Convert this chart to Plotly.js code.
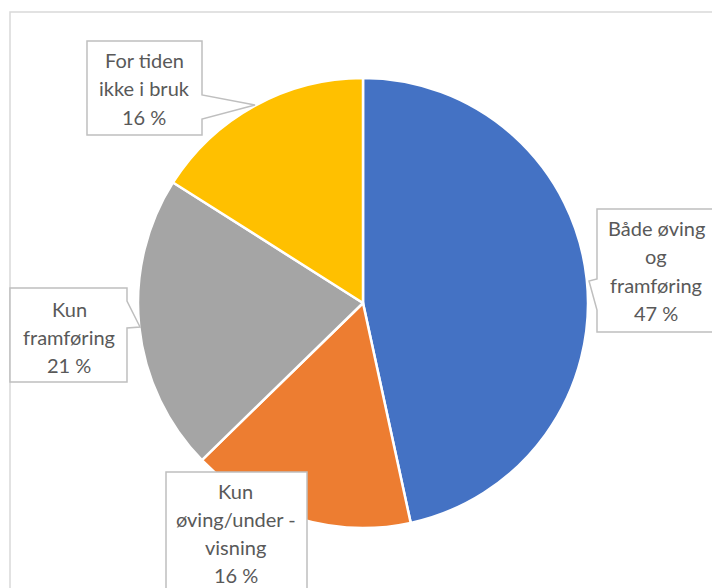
<!DOCTYPE html>
<html>
<head>
<meta charset="utf-8">
<script src="https://cdn.plot.ly/plotly-3.0.1.min.js"></script>
<style>html,body{margin:0;padding:0;background:#fff;}#chart{width:712px;height:588px;}</style>
</head>
<body>
<div id="chart"></div>
<script>
// Data (shares; labels show rounded percent)
const categories = ["Både øving og framføring", "Kun øving/undervisning", "Kun framføring", "For tiden ikke i bruk"];
const values = [46.6, 16.1, 21.3, 16.0];
const labelLines = ["Både øving<br>og<br>framføring", "Kun<br>øving/under -<br>visning", "Kun<br>framføring", "For tiden<br>ikke i bruk"];
const colors = ["#4472C4", "#ED7D31", "#A5A5A5", "#FFC000"];

const W = 712, H = 588;
const px = (x, y) => (x / W).toFixed(5) + "," + (1 - y / H).toFixed(5);
const path = pts => "M" + pts.map(p => px(p[0], p[1])).join(" L") + " Z";

// callout outlines (pixel geometry of label boxes)
const callouts = [
  [[597,209],[720,209],[720,332],[597,332],[597,310],[589,281],[597,279]],
  [[166,472],[307,472],[307,600],[166,600]],
  [[10,288],[127,288],[127,301],[140,327],[127,328],[127,382],[10,382]],
  [[87,41],[202,41],[202,95],[255,105],[202,119],[202,135],[87,135]]
];
const textPos = [[656,270.5],[236,533],[69,337],[144,88.5]];
const lineGap = [28.3, 27.8, 28.3, 28.3];

const shapes = [
  {type:"path", xref:"paper", yref:"paper", layer:"below",
   path: "M" + px(10,700) + " L" + px(10,12) + " L" + px(800,12),
   line:{color:"#D9D9D9", width:1.5}}
];
callouts.forEach(c => shapes.push({type:"path", xref:"paper", yref:"paper", layer:"above",
  path: path(c), fillcolor:"#FFFFFF", line:{color:"#BFBFBF", width:1.5}}));

const annotations = [];
categories.forEach((c, i) => {
  const lines = (labelLines[i] + "<br>" + Math.round(values[i]) + " %").split("<br>");
  const n = lines.length;
  lines.forEach((t, k) => {
    const yy = textPos[i][1] + (k - (n - 1) / 2) * lineGap[i];
    annotations.push({
      xref:"paper", yref:"paper", x: textPos[i][0]/W, y: 1 - yy/H,
      xanchor:"center", yanchor:"middle", showarrow:false, align:"center",
      text: t,
      font:{family:"Lato, 'Open Sans', sans-serif", size:20, color:"#595959"}
    });
  });
});

const cx = 363, cy = 303, r = 225;
const trace = {
  type:"pie", labels: categories, values: values, sort:false, direction:"clockwise", rotation:0,
  marker:{colors: colors, line:{color:"#FFFFFF", width:2.5}},
  textinfo:"none", hoverinfo:"label+percent", automargin:false,
  domain:{x:[(cx-r)/W, (cx+r)/W], y:[1-(cy+r)/H, 1-(cy-r)/H]}
};

Plotly.newPlot("chart", [trace], {
  width:W, height:H, margin:{l:0,r:0,t:0,b:0}, showlegend:false,
  paper_bgcolor:"#FFFFFF", shapes: shapes, annotations: annotations
}, {staticPlot:true});
</script>
</body>
</html>
